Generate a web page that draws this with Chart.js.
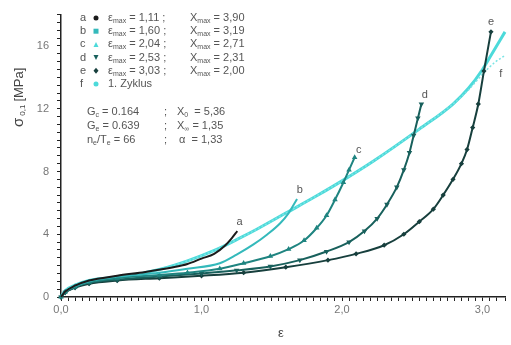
<!DOCTYPE html>
<html>
<head>
<meta charset="utf-8">
<script src="https://cdn.jsdelivr.net/npm/chart.js@4"></script>
<style>
  body { margin: 0; background: #fff; }
  #wrap { width: 511px; height: 345px; }
</style>
</head>
<body>
<div id="wrap"><canvas id="chart"></canvas></div>
<script>
// curve data (strain eps, stress sigma in MPa)
var epsA = [0, 0.03, 0.1, 0.2, 0.4, 0.6, 0.8, 0.9, 1.0, 1.09, 1.17, 1.22, 1.255];
var sigA = [0, 0.35, 0.72, 1.05, 1.35, 1.6, 1.9, 2.1, 2.45, 2.75, 3.3, 3.8, 4.2];

var epsB = [0, 0.03, 0.1, 0.2, 0.4, 0.7, 0.9, 1.13, 1.25, 1.37, 1.47, 1.56, 1.62, 1.68];
var sigB = [0, 0.35, 0.7, 1.0, 1.3, 1.55, 1.8, 2.15, 2.7, 3.35, 4.0, 4.7, 5.35, 6.25];

var epsC = [0, 0.03, 0.1, 0.2, 0.4, 0.7, 0.9, 1.13, 1.3, 1.49, 1.62, 1.73, 1.82, 1.89, 1.95, 2.01, 2.05, 2.09];
var sigC = [0, 0.32, 0.65, 0.95, 1.2, 1.4, 1.55, 1.8, 2.15, 2.6, 3.05, 3.6, 4.4, 5.2, 6.2, 7.3, 8.1, 8.9];

var epsD = [0, 0.03, 0.1, 0.2, 0.4, 0.7, 1.0, 1.25, 1.49, 1.7, 1.89, 2.05, 2.16, 2.25, 2.32, 2.39, 2.44, 2.48, 2.51, 2.54, 2.565];
var sigD = [0, 0.3, 0.62, 0.9, 1.1, 1.3, 1.5, 1.7, 1.95, 2.35, 2.9, 3.5, 4.2, 5.0, 5.9, 7.0, 8.1, 9.2, 10.3, 11.4, 12.3];

var epsE = [0, 0.03, 0.1, 0.2, 0.4, 0.7, 1.0, 1.3, 1.6, 1.9, 2.1, 2.3, 2.44, 2.55, 2.65, 2.72, 2.79, 2.85, 2.89, 2.93, 2.97, 3.01, 3.06];
var sigE = [0, 0.3, 0.6, 0.85, 1.05, 1.2, 1.35, 1.55, 1.9, 2.35, 2.75, 3.3, 4.0, 4.8, 5.6, 6.5, 7.5, 8.5, 9.4, 10.8, 12.3, 14.4, 16.9];

// 1. Zyklus (measured) and its fit
var epsF = [0, 0.03, 0.1, 0.2, 0.45, 0.7, 0.9, 1.1, 1.26, 1.4, 1.61, 1.82, 2.0, 2.23, 2.55, 2.79, 2.9, 3.0, 3.08, 3.16];
var sigF = [0, 0.4, 0.75, 1.05, 1.3, 1.75, 2.3, 3.0, 3.7, 4.35, 5.4, 6.45, 7.4, 8.7, 10.7, 12.3, 13.3, 14.5, 15.7, 16.9];
var epsFfit = [0, 0.03, 0.1, 0.2, 0.45, 0.7, 0.9, 1.1, 1.26, 1.4, 1.61, 1.82, 2.0, 2.23, 2.55, 2.79, 2.9, 3.0, 3.08, 3.16];
var sigFfit = [0, 0.4, 0.75, 1.05, 1.3, 1.75, 2.3, 3.0, 3.7, 4.35, 5.4, 6.45, 7.4, 8.7, 10.7, 12.3, 13.2, 14.2, 14.9, 15.4];

// legend entries
var legLetters = ['a', 'b', 'c', 'd', 'e', 'f'];
var legEpsMax = ['1,11', '1,60', '2,04', '2,53', '3,03'];
var legXMax = ['3,90', '3,19', '2,71', '2,31', '2,00'];

// axis ticks
var xTickLabels = [0, 1, 2, 3];
var yTickLabels = [0, 4, 8, 12, 16];

// curve labels: [letter, eps, sigma]
var curveLabels = [['a', 1.27, 4.8], ['b', 1.70, 6.8], ['c', 2.12, 9.4], ['d', 2.59, 12.9], ['e', 3.06, 17.5], ['f', 3.13, 14.2]];

function pts(xs, ys) {
    var out = [];
    for (var i = 0; i < xs.length; i++) out.push({x: xs[i], y: ys[i]});
    return out;
}

var cCyan = '#4cdada';
var cB = '#34b9bb';
var cC = '#1f8480';
var cD = '#18605c';
var cE = '#173f3d';
var cA = '#1b1b1b';
var fontFam = '"Liberation Sans", Arial, sans-serif';

var textPlugin = {
    id: 'texts',
    afterDraw: function (chart) {
        var ctx = chart.ctx;
        var xs = chart.scales.x, ys = chart.scales.y;
        ctx.save();
        ctx.fillStyle = '#555';
        ctx.textBaseline = 'middle';

        // curve letters
        ctx.font = '11px ' + fontFam;
        ctx.textAlign = 'center';
        curveLabels.forEach(function (l) {
            ctx.fillText(l[0], xs.getPixelForValue(l[1]), ys.getPixelForValue(l[2]));
        });

        // text with subscripts
        function run(parts, x, y) {
            parts.forEach(function (p) {
                ctx.font = p.sub ? '7px ' + fontFam : '11px ' + fontFam;
                ctx.fillText(p.t, x, p.sub ? y + 3 : y);
                x += ctx.measureText(p.t).width;
            });
            return x;
        }

        ctx.textAlign = 'left';
        var symColors = [cA, cB, cCyan, cD, cE, cCyan];
        var symStyles = ['circle', 'rect', 'triangle', 'triangleDown', 'rectRot', 'circle'];
        var y0 = 18, dy = 13.2;
        for (var i = 0; i < legLetters.length; i++) {
            var y = y0 + i * dy;
            ctx.fillStyle = '#555';
            ctx.font = '11px ' + fontFam;
            ctx.fillText(legLetters[i], 80, y);
            ctx.fillStyle = symColors[i];
            var sx = 96, r = 2.5;
            ctx.beginPath();
            if (symStyles[i] === 'circle') ctx.arc(sx, y, r, 0, Math.PI * 2);
            else if (symStyles[i] === 'rect') ctx.rect(sx - r, y - r, 2 * r, 2 * r);
            else if (symStyles[i] === 'triangle') { ctx.moveTo(sx, y - r); ctx.lineTo(sx + r, y + r); ctx.lineTo(sx - r, y + r); ctx.closePath(); }
            else if (symStyles[i] === 'triangleDown') { ctx.moveTo(sx, y + r); ctx.lineTo(sx + r, y - r); ctx.lineTo(sx - r, y - r); ctx.closePath(); }
            else { ctx.moveTo(sx, y - r - 0.5); ctx.lineTo(sx + r, y); ctx.lineTo(sx, y + r + 0.5); ctx.lineTo(sx - r, y); ctx.closePath(); }
            ctx.fill();
            ctx.fillStyle = '#555';
            if (i < 5) {
                run([{t: 'ε'}, {t: 'max', sub: true}, {t: ' = ' + legEpsMax[i] + ' ;  '}], 108, y);
                run([{t: 'X'}, {t: 'max', sub: true}, {t: ' = ' + legXMax[i]}], 190, y);
            } else {
                run([{t: '1. Zyklus'}], 108, y);
            }
        }

        // parameter block
        run([{t: 'G'}, {t: 'c', sub: true}, {t: ' = 0.164'}], 87, 112);
        run([{t: ';'}], 164, 112);
        run([{t: 'X'}, {t: '0', sub: true}, {t: '  = 5,36'}], 177, 112);
        run([{t: 'G'}, {t: 'e', sub: true}, {t: ' = 0.639'}], 87, 126);
        run([{t: ';'}], 164, 126);
        run([{t: 'X'}, {t: '∞', sub: true}, {t: ' = 1,35'}], 177, 126);
        run([{t: 'n'}, {t: 'e', sub: true}, {t: '/T'}, {t: 'e', sub: true}, {t: ' = 66'}], 87, 140);
        run([{t: ';'}], 164, 140);
        run([{t: 'α'}, {t: '  = 1,33'}], 179, 140);

        // axis titles
        ctx.fillStyle = '#444';
        ctx.font = '13px ' + fontFam;
        ctx.textAlign = 'center';
        ctx.fillText('ε', (xs.left + xs.right) / 2 - 2, 333);

        ctx.translate(19, 75);
        ctx.rotate(-Math.PI / 2);
        ctx.textAlign = 'left';
        var tx = -52;
        ctx.font = '15px ' + fontFam;
        ctx.fillText('σ', tx, 0);
        tx += ctx.measureText('σ').width + 2;
        ctx.font = '8px ' + fontFam;
        ctx.fillText('0,1', tx, 4);
        tx += ctx.measureText('0,1').width + 3;
        ctx.font = '13px ' + fontFam;
        ctx.fillText('[MPa]', tx, 0);
        ctx.restore();
    }
};

function isLabel(v, list) {
    for (var i = 0; i < list.length; i++) if (Math.abs(v - list[i]) < 1e-6) return true;
    return false;
}

var ctx = document.getElementById('chart');
var chart = new Chart(ctx, {
    type: 'scatter',
    data: {
        datasets: [
            {label: 'f', data: pts(epsF, sigF), borderColor: cCyan, borderWidth: 3, pointRadius: 0, showLine: true, order: 7},
            {label: 'f fit', data: pts(epsFfit, sigFfit), borderColor: '#7ae4e4', borderWidth: 1.5, borderDash: [2, 2], pointRadius: 0, showLine: true, order: 6},
            {label: 'a', data: pts(epsA, sigA), borderColor: cA, borderWidth: 2, pointRadius: 0, showLine: true, order: 1},
            {label: 'b', data: pts(epsB, sigB), borderColor: cB, borderWidth: 2, pointRadius: 0, showLine: true, order: 2},
            {label: 'c', data: pts(epsC, sigC), borderColor: cC, borderWidth: 2, pointRadius: 1.2, pointStyle: 'triangle', pointBackgroundColor: cC, pointBorderColor: cC, showLine: true, order: 3},
            {label: 'd', data: pts(epsD, sigD), borderColor: cD, borderWidth: 2, pointRadius: 1.2, pointStyle: 'triangle', pointRotation: 180, pointBackgroundColor: cD, pointBorderColor: cD, showLine: true, order: 4},
            {label: 'e', data: pts(epsE, sigE), borderColor: cE, borderWidth: 2, pointRadius: 1.2, pointStyle: 'rectRot', pointBackgroundColor: cE, pointBorderColor: cE, showLine: true, order: 5}
        ]
    },
    options: {
        responsive: true,
        maintainAspectRatio: false,
        animation: false,
        clip: false,
        layout: {padding: {top: 9, right: 0, left: 0, bottom: 0}},
        plugins: {legend: {display: false}, tooltip: {enabled: false}},
        elements: {line: {cubicInterpolationMode: 'monotone'}},
        scales: {
            x: {
                type: 'linear', min: 0, max: 3.16,
                border: {color: '#222', width: 1.5},
                grid: {drawOnChartArea: false, tickLength: 4, tickColor: '#222'},
                ticks: {
                    stepSize: 0.05, autoSkip: false, maxRotation: 0, padding: 2,
                    color: '#777', font: {size: 11, family: fontFam},
                    callback: function (v) { return isLabel(v, xTickLabels) ? v.toFixed(1).replace('.', ',') : ''; }
                },
                afterFit: function (s) { s.height = 48; }
            },
            y: {
                type: 'linear', min: 0, max: 18,
                border: {color: '#222', width: 1.5},
                grid: {drawOnChartArea: false, tickLength: 4, tickColor: '#222'},
                ticks: {
                    stepSize: 0.5, autoSkip: false, padding: 8,
                    color: '#777', font: {size: 11, family: fontFam},
                    callback: function (v) { return isLabel(v, yTickLabels) ? String(Math.round(v)) : ''; }
                },
                afterFit: function (s) { s.width = 61; }
            }
        }
    },
    plugins: [textPlugin]
});
</script>
</body>
</html>
